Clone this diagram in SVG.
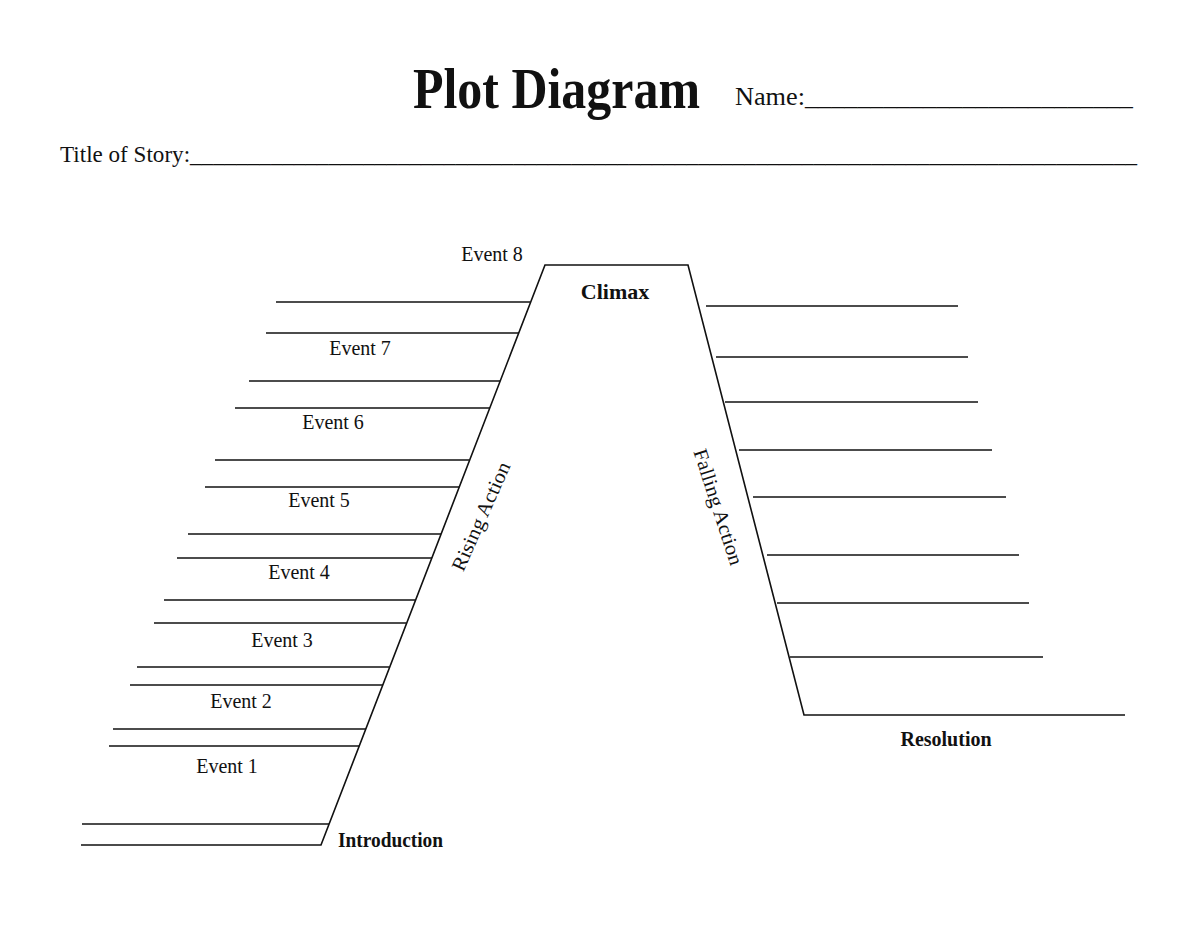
<svg xmlns="http://www.w3.org/2000/svg" width="1200" height="927" viewBox="0 0 1200 927">
<style>
.t{font-family:"Liberation Serif","Times New Roman",serif;fill:#111}
.ev{font-size:20px;text-anchor:middle}
.b{font-weight:bold}
.ln{stroke:#111;stroke-width:1.6;fill:none}
</style>
<rect width="1200" height="927" fill="#fff"/>
<g id="header">
<text class="t b" x="413" y="108" font-size="56" textLength="287" lengthAdjust="spacingAndGlyphs">Plot Diagram</text>
<text class="t" x="735" y="105" font-size="26" textLength="398" lengthAdjust="spacingAndGlyphs">Name:_________________________</text>
<text class="t" x="60" y="162" font-size="23" textLength="1077" lengthAdjust="spacingAndGlyphs">Title of Story:__________________________________________________________________________________</text>
</g>
<g id="connectors" class="ln">
<polyline points="81,845 321,845 545,265 688,265 804,715 1125,715"/>
<line x1="276" y1="302" x2="530" y2="302"/>
<line x1="266" y1="333" x2="519" y2="333"/>
<line x1="249" y1="381" x2="500" y2="381"/>
<line x1="235" y1="408" x2="490" y2="408"/>
<line x1="215" y1="460" x2="469" y2="460"/>
<line x1="205" y1="487" x2="459" y2="487"/>
<line x1="188" y1="534" x2="441" y2="534"/>
<line x1="177" y1="558" x2="432" y2="558"/>
<line x1="164" y1="600" x2="415" y2="600"/>
<line x1="154" y1="623" x2="406" y2="623"/>
<line x1="137" y1="667" x2="389" y2="667"/>
<line x1="130" y1="685" x2="383" y2="685"/>
<line x1="113" y1="729" x2="366" y2="729"/>
<line x1="109" y1="746" x2="359" y2="746"/>
<line x1="82" y1="824" x2="329" y2="824"/>
<line x1="706" y1="306" x2="958" y2="306"/>
<line x1="716" y1="357" x2="968" y2="357"/>
<line x1="725" y1="402" x2="978" y2="402"/>
<line x1="739" y1="450" x2="992" y2="450"/>
<line x1="753" y1="497" x2="1006" y2="497"/>
<line x1="767" y1="555" x2="1019" y2="555"/>
<line x1="777" y1="603" x2="1029" y2="603"/>
<line x1="790" y1="657" x2="1043" y2="657"/>
</g>
<g id="event8"><text class="t ev" x="492" y="261">Event 8</text></g>
<g id="climax"><text class="t b" x="615" y="299" font-size="22" text-anchor="middle">Climax</text></g>
<g id="event7"><text class="t ev" x="360" y="355">Event 7</text></g>
<g id="event6"><text class="t ev" x="333" y="429">Event 6</text></g>
<g id="event5"><text class="t ev" x="319" y="507">Event 5</text></g>
<g id="event4"><text class="t ev" x="299" y="579">Event 4</text></g>
<g id="event3"><text class="t ev" x="282" y="647">Event 3</text></g>
<g id="event2"><text class="t ev" x="241" y="708">Event 2</text></g>
<g id="event1"><text class="t ev" x="227" y="773">Event 1</text></g>
<g id="introduction"><text class="t b" x="338" y="847" font-size="20" textLength="105" lengthAdjust="spacingAndGlyphs">Introduction</text></g>
<g id="resolution"><text class="t b" x="946" y="746" font-size="20" text-anchor="middle">Resolution</text></g>
<g id="rising-action"><text class="t" font-size="20" text-anchor="middle" transform="translate(487,519) rotate(-66)" textLength="117" lengthAdjust="spacingAndGlyphs">Rising Action</text></g>
<g id="falling-action"><text class="t" font-size="20" text-anchor="middle" transform="translate(712,509) rotate(72)" textLength="121" lengthAdjust="spacingAndGlyphs">Falling Action</text></g>
</svg>
